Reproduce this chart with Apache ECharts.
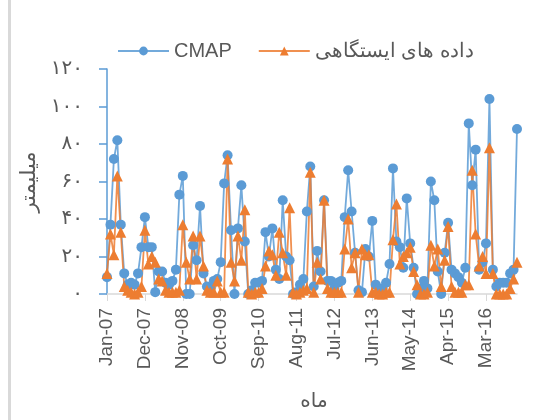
<!DOCTYPE html>
<html>
<head>
<meta charset="utf-8">
<script src="https://cdn.jsdelivr.net/npm/echarts@6/dist/echarts.min.js"></script>
<style>
html,body{margin:0;padding:0;background:#fff;}
#chart{width:542px;height:420px;}
</style>
</head>
<body>
<div id="chart"></div>
<script>
const monthNames = ['Jan','Feb','Mar','Apr','May','Jun','Jul','Aug','Sep','Oct','Nov','Dec'];
const yearLabels = ['07','08','09','10','11','12','13','14','15','16'];
const categories = [];
yearLabels.forEach(y => monthNames.forEach(m => categories.push(m + '-' + y)));

const seriesNames = ['CMAP', 'داده های ایستگاهی'];

const cmapValues = [
  9, 37, 72, 82, 37, 11, 5, 6, 5, 11,
  25, 41, 25, 25, 1, 12, 12, 6, 5, 7,
  13, 53, 63, 0, 0, 26, 18, 47, 11, 4,
  3, 7, 8, 17, 59, 74, 34, 0, 35, 58,
  28, 0, 2, 6, 6, 7, 33, 20, 35, 13,
  8, 50, 20, 18, 0, 1, 5, 8, 44, 68,
  4, 23, 12, 50, 7, 7, 3, 6, 7, 41,
  66, 44, 22, 2, 1, 24, 20, 39, 5, 3,
  3, 6, 16, 67, 28, 25, 14, 51, 27, 14,
  0, 3, 7, 3, 60, 50, 12, 0, 22, 38,
  13, 11, 9, 6, 14, 91, 58, 77, 13, 17,
  27, 104, 13, 4, 6, 6, 6, 11, 13, 88
];

const stationValues = [
  11, 32, 21, 63, 33, 4, 2, 1, 0, 1,
  4, 34, 16, 20, 17, 8, 7, 2, 1, 1,
  1, 2, 37, 17, 8, 31, 8, 31, 15, 2,
  1, 1, 7, 1, 1, 72, 17, 7, 31, 18,
  45, 1, 0, 1, 1, 3, 15, 23, 21, 10,
  33, 22, 10, 46, 1, 0, 1, 2, 3, 65,
  1, 17, 8, 50, 3, 1, 1, 1, 1, 24,
  40, 14, 22, 1, 24, 21, 21, 1, 1, 0,
  0, 1, 1, 29, 48, 16, 20, 22, 25, 12,
  5, 0, 0, 1, 26, 15, 24, 4, 18, 36,
  4, 1, 1, 1, 5, 5, 66, 32, 15, 20,
  11, 78, 11, 0, 0, 0, 0, 3, 8, 17
];

const yTickValues = [0, 20, 40, 60, 80, 100, 120];
const yTickLabels = ['۰', '۲۰', '۴۰', '۶۰', '۸۰', '۱۰۰', '۱۲۰'];

const yAxisTitle = 'میلیمتر';
const xAxisTitle = 'ماه';

const chart = echarts.init(document.getElementById('chart'), null, {renderer: 'canvas'});
const latinFont = '"Liberation Sans", Arial, sans-serif';
const arabicFont = '"DejaVu Sans", sans-serif';
const textColor = '#595959';

chart.setOption({
  animation: false,
  backgroundColor: '#ffffff',
  grid: {left: 107, right: 25, top: 69, bottom: 126, containLabel: false},
  legend: {
    left: 112,
    top: 36,
    itemWidth: 51,
    itemHeight: 11,
    itemGap: 26,
    data: seriesNames,
    textStyle: {color: textColor, fontSize: 20, fontFamily: latinFont}
  },
  xAxis: {
    type: 'category',
    data: categories,
    boundaryGap: false,
    axisLine: {lineStyle: {color: '#d9d9d9', width: 1.5}},
    axisTick: {show: true, interval: 10, length: 7, lineStyle: {color: '#d9d9d9'}},
    axisLabel: {
      interval: 10,
      rotate: 90,
      margin: 14,
      color: textColor,
      fontSize: 19,
      fontFamily: latinFont
    },
    splitLine: {show: false}
  },
  yAxis: {
    type: 'value',
    min: 0,
    max: 120,
    interval: 20,
    axisLine: {show: true, lineStyle: {color: '#5b9bd5', width: 1.5}},
    axisTick: {show: true, length: 8, lineStyle: {color: '#5b9bd5', width: 1.5}},
    axisLabel: {
      margin: 24,
      color: textColor,
      fontSize: 20,
      fontFamily: arabicFont,
      formatter: function (v) {
        const idx = yTickValues.indexOf(v);
        return idx >= 0 ? yTickLabels[idx] : '';
      }
    },
    splitLine: {show: false}
  },
  graphic: [
    {type: 'rect', left: 8, top: 0, shape: {width: 3, height: 420}, style: {fill: '#d9d9d9'}, silent: true},
    {
      type: 'text',
      x: 30, y: 182,
      rotation: Math.PI / 2,
      style: {text: yAxisTitle, fill: textColor, font: '21px ' + arabicFont, textAlign: 'center', textVerticalAlign: 'middle'}
    },
    {
      type: 'text',
      x: 314, y: 402,
      style: {text: xAxisTitle, fill: textColor, font: '20px ' + arabicFont, textAlign: 'center', textVerticalAlign: 'middle'}
    }
  ],
  series: [
    {
      name: seriesNames[0],
      type: 'line',
      data: cmapValues,
      symbol: 'circle',
      symbolSize: 10,
      showAllSymbol: true,
      itemStyle: {color: '#5b9bd5'},
      lineStyle: {color: '#5b9bd5', width: 1.8, opacity: 0.85}
    },
    {
      name: seriesNames[1],
      type: 'line',
      data: stationValues,
      symbol: 'triangle',
      symbolSize: 11,
      showAllSymbol: true,
      itemStyle: {color: '#ed7d31'},
      lineStyle: {color: '#ed7d31', width: 1.8, opacity: 0.85}
    }
  ]
});
</script>
</body>
</html>
